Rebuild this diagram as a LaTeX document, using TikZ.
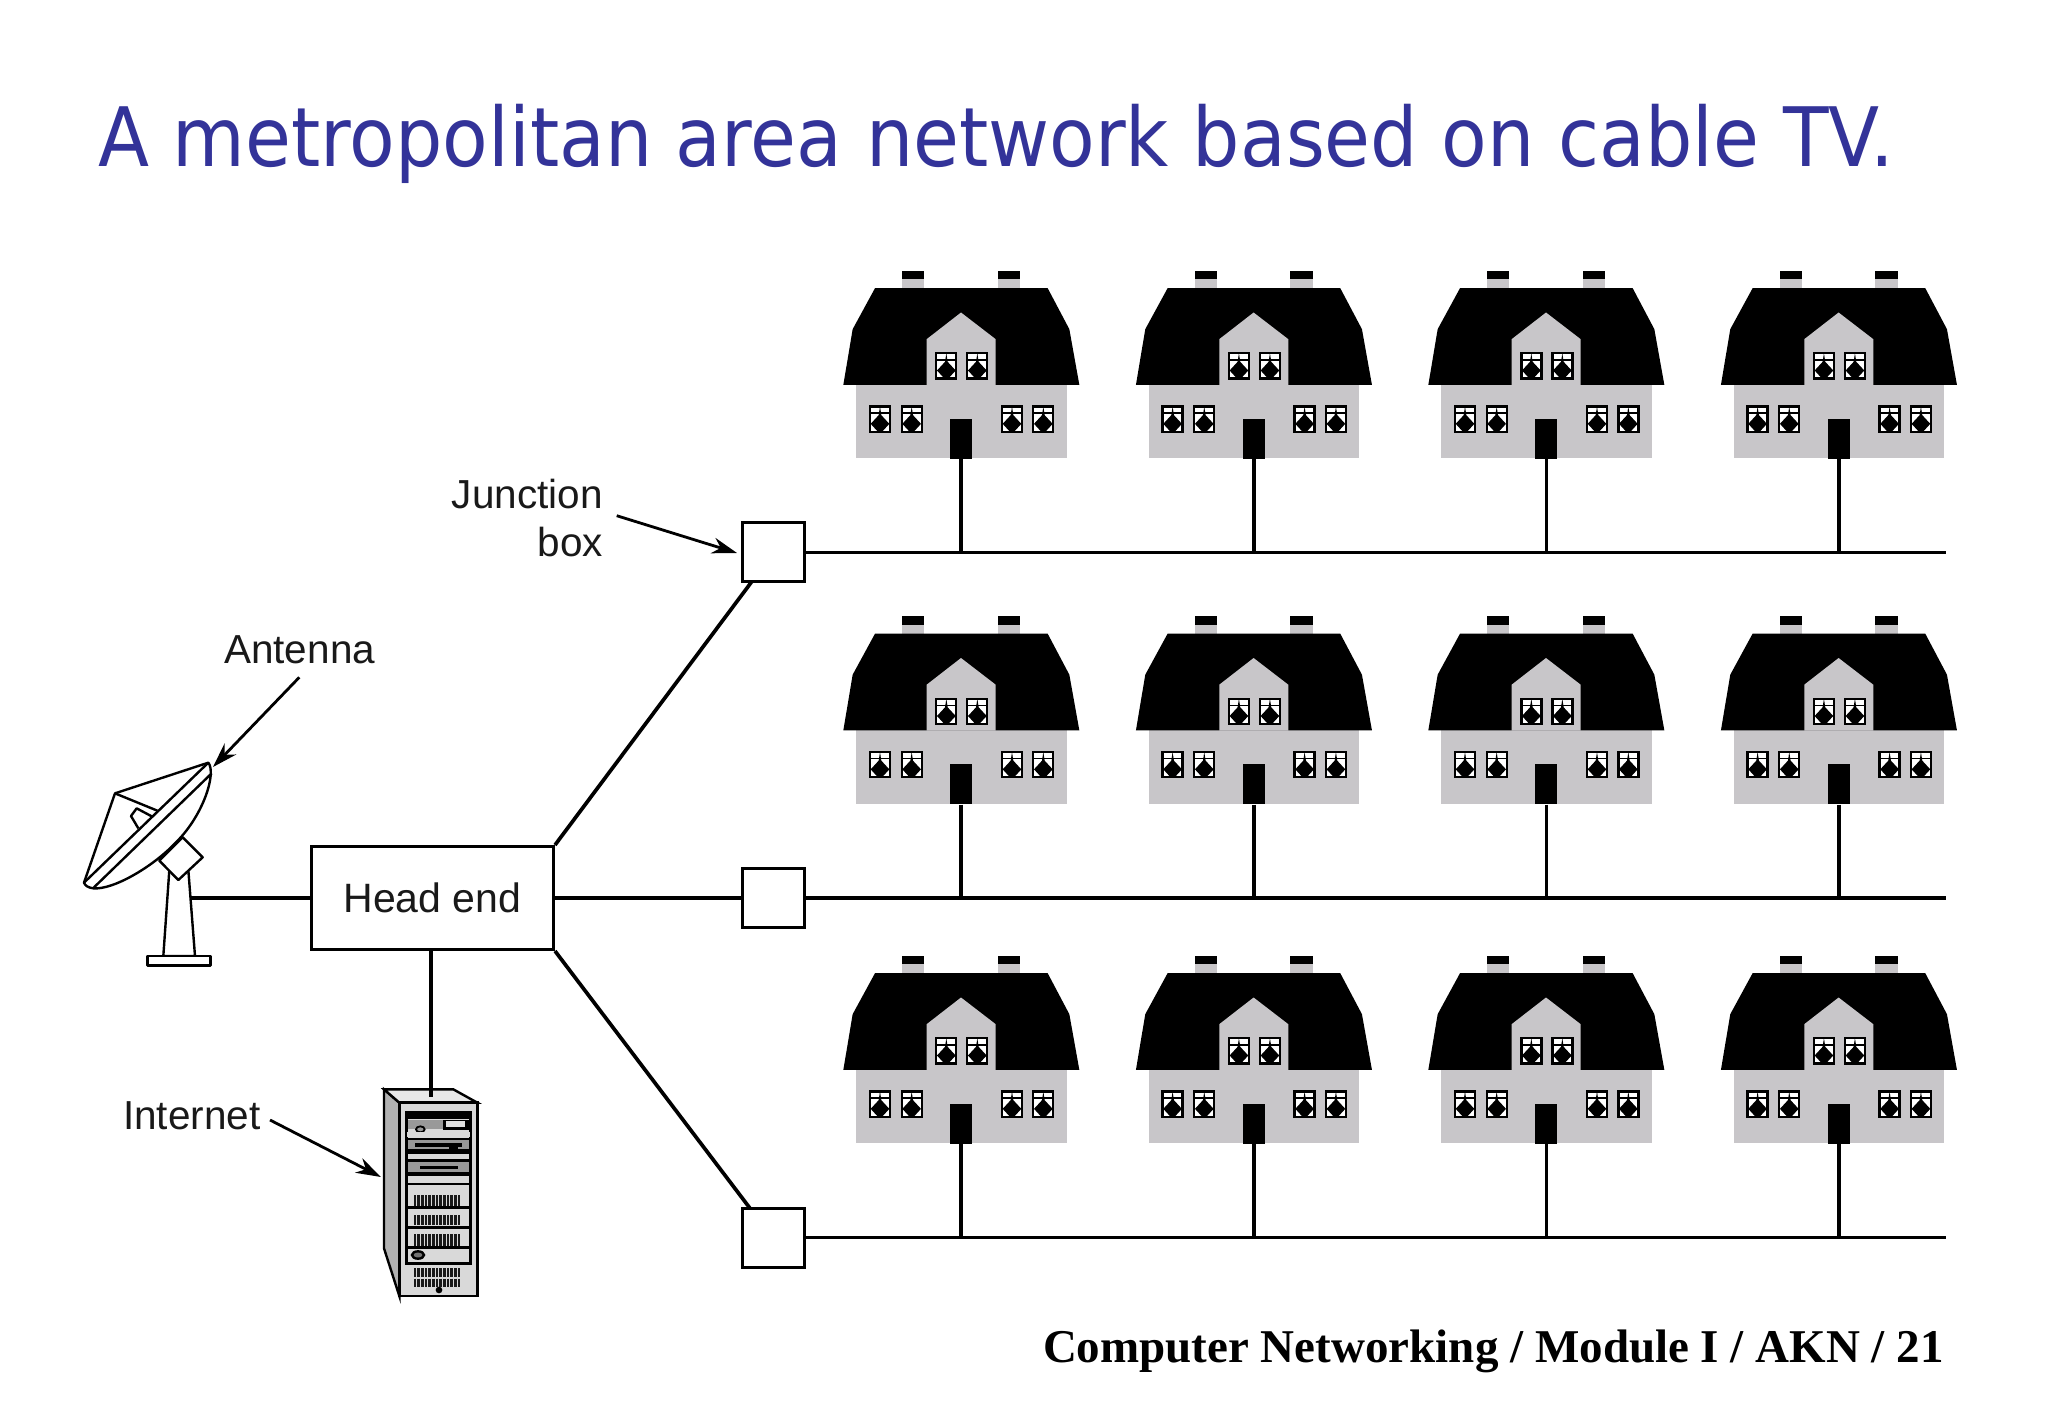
\documentclass[tikz,border=0pt]{standalone}
\usepackage{fontspec}
\usetikzlibrary{arrows.meta}
\setmainfont{Liberation Sans}
\newfontfamily\titlefont[FakeStretch=0.91]{DejaVu Sans}
\newfontfamily\footfont{Liberation Serif}
\definecolor{titleblue}{HTML}{333399}
\definecolor{housegrey}{HTML}{C8C6C9}
\newcommand\housewin[2]{%
  \begin{scope}[shift={(#1,#2)}]
    \draw[line width=2.3pt,fill=white] (-30,-38) rectangle (30,38);
    \fill[black] (0,-38) -- (4,-12) -- (28,14) -- (6,38) -- (-6,38) -- (-28,14) -- (-4,-12) -- cycle;
    \draw[line width=1.5pt] (-30,-18) -- (30,-18);
  \end{scope}}
\newcommand\ventrow[2]{%
  \foreach \vx in {165,176,...,305} {\draw[line width=2.8pt,black!90] (\vx,#1) -- (\vx,#2);}}
\tikzset{
  wire/.style={line width=3.7pt,black},
  boxline/.style={line width=3pt,black,fill=white,draw},
  callout/.style={line width=2.8pt,-{Stealth[length=25pt,width=16pt]}},
  label/.style={font=\fontsize{40.5}{48.7}\selectfont,text=black!90,inner sep=0pt},
  junction/.style={boxline,rectangle,minimum width=62pt,minimum height=58.5pt,inner sep=0pt},
  door/.style={fill=black,rectangle,minimum width=22pt,minimum height=40pt,inner sep=0pt},
  antline/.style={line width=2.4pt,black,line join=round},
  srv/.style={line width=2.4pt,black},
}
\begin{document}
\begin{tikzpicture}[x=1pt,y=-1pt]
\useasboundingbox (0,0) rectangle (2048,1418);
\fill[white] (0,0) rectangle (2048,1418);

% title and footer
\node[anchor=base west,inner sep=0pt,text=titleblue,font=\titlefont\fontsize{82}{90}\selectfont] (title) at (98,167) {A metropolitan area network based on cable TV.};
\node[anchor=base east,inner sep=0pt,font=\footfont\bfseries\fontsize{47}{50}\selectfont] (foot) at (1944,1362) {Computer Networking / Module I / AKN / 21};

% head end and junction boxes
\node[boxline,rectangle,minimum width=242pt,minimum height=103pt,inner sep=0pt,font=\fontsize{41}{48}\selectfont,text=black!90] (head) at (432.5,898) {Head end};
\node[junction] (j1) at (773.5,552) {};
\node[junction] (j2) at (773.5,898) {};
\node[junction] (j3) at (773.5,1238) {};

\coordinate (j1foot) at (751.7,581.7);
\coordinate (j3foot) at (750,1208.3);
\coordinate (w1) at (1946,552.5);
\coordinate (w2) at (1946,898);
\coordinate (w3) at (1946,1237.5);
\coordinate (polefoot) at (191,898);
\coordinate (srvtop) at (431,1097);

\draw[wire] (head.north east) -- (j1foot);
\draw[wire,line width=4.2pt] (head.east) -- (j2.west);
\draw[wire] (head.south east) -- (j3foot);
\draw[wire] (j1.east |- w1) -- (w1);
\draw[wire] (j2.east |- w2) -- (w2);
\draw[wire] (j3.east |- w3) -- (w3);
\draw[wire] (srvtop |- head.south) -- (srvtop);
\draw[wire,line width=4.2pt] (polefoot) -- (head.west);

% houses
\foreach \r/\wy in {1/552.5,2/898,3/1237.5} {
  \foreach \c/\cx in {1/961,2/1253.6,3/1546,4/1838.6} {
    \begin{scope}[shift={(\cx-131,\wy-292.67)},x=0.33333pt,y=-0.33333pt]
      \fill[housegrey] (216,33) rectangle (283,90);
      \fill[housegrey] (503,33) rectangle (570,90);
      \fill[black] (216,33) rectangle (283,58);
      \fill[black] (503,33) rectangle (570,58);
      \fill[housegrey] (78,370) rectangle (710,595);
      \fill[black] (40,375) -- (68,208) -- (135,85) -- (653,85) -- (718,208) -- (748,375) -- cycle;
      \fill[housegrey] (290,376) -- (290,238) -- (393,158) -- (497,238) -- (497,376) -- cycle;
      \housewin{349}{318}\housewin{442}{318}
      \housewin{150}{478}\housewin{245}{478}\housewin{546}{478}\housewin{640}{478}
      \node[door] (door\r\c) at (394,537) {};
      \draw[wire] (door\r\c.south) -- (door\r\c.south |- w\r);
    \end{scope}
  }
}

% antenna
\begin{scope}[shift={(70,740)},x=0.33333pt,y=-0.33333pt]
  \draw[antline,fill=white] (280,648) -- (298,390) -- (355,390) -- (375,648) -- cycle;
  \draw[antline,fill=white] (232,648) rectangle (422,676);
  \draw[antline,fill=white] (338,292) -- (398,352) -- (325,420) -- (268,362) -- cycle;
  \draw[antline,fill=white] (42,428) -- (135,160) -- (415,68) .. controls (440,100) and (400,225) .. (320,305) .. controls (250,380) and (130,450) .. (70,445) .. controls (55,443) and (45,437) .. (42,428) -- cycle;
  \draw[antline] (42,428) -- (415,68);
  \draw[antline] (72,442) -- (425,100);
  \draw[antline] (135,160) -- (262,212);
  \draw[antline] (205,265) -- (183,228) -- (200,205) -- (247,230);
\end{scope}

% server
\begin{scope}[shift={(360,1080)},x=0.33333pt,y=-0.33333pt]
  \draw[srv,fill=black!30] (72,28) -- (118,68) -- (118,648) -- (72,505) -- cycle;
  \draw[srv,fill=black!9] (72,28) -- (280,28) -- (352,68) -- (118,68) -- cycle;
  \draw[srv,fill=black!15] (118,68) rectangle (352,648);
  \draw[wire] (213,28) -- (213,50);
  \fill[black] (138,98) rectangle (334,118);
  \draw[srv] (140,98) rectangle (332,550);
  \fill[black!40] (145,120) rectangle (250,148);
  \fill[black] (250,120) rectangle (330,150);
  \fill[black!12] (258,123) rectangle (316,140);
  \draw[srv,line width=1.8pt,fill=black!40] (181,148) ellipse (13 and 9);
  \fill[black!15] (142,155) rectangle (330,172);
  \fill[black] (140,173) rectangle (332,222);
  \fill[black!40] (145,180) rectangle (328,207);
  \fill[black] (165,190) rectangle (305,200);
  \fill[black] (268,200) rectangle (295,212);
  \fill[black] (140,238) rectangle (332,287);
  \fill[black!40] (145,246) rectangle (328,275);
  \fill[black] (180,257) rectangle (293,268);
  \draw[srv] (140,312) -- (332,312);
  \ventrow{345}{378}
  \draw[srv] (140,382) -- (332,382);
  \ventrow{405}{436}
  \draw[srv] (140,442) -- (332,442);
  \ventrow{463}{497}
  \draw[srv] (140,502) -- (332,502);
  \draw[srv,fill=black!55] (174,525) ellipse (18 and 11);
  \ventrow{565}{590}
  \ventrow{596}{620}
  \fill[black] (237,630) circle (10);
\end{scope}

% labels and callouts
\node[label,anchor=base east,align=right] (lj1) at (603,508) {Junction};
\node[label,anchor=base east,align=right] (lj2) at (603,556.7) {box};
\node[label,anchor=base west] (lant) at (224,663.3) {Antenna};
\node[label,anchor=base west] (lint) at (123,1129) {Internet};
\coordinate (cj) at (616.7,515.7);
\coordinate (ca) at (299.3,677.3);
\coordinate (ci) at (270,1120);
\coordinate (tj) at (737,553);
\coordinate (ta) at (213,767);
\coordinate (ti) at (381,1177);
\draw[callout] (cj) -- (tj);
\draw[callout] (ca) -- (ta);
\draw[callout] (ci) -- (ti);
\end{tikzpicture}
\end{document}
